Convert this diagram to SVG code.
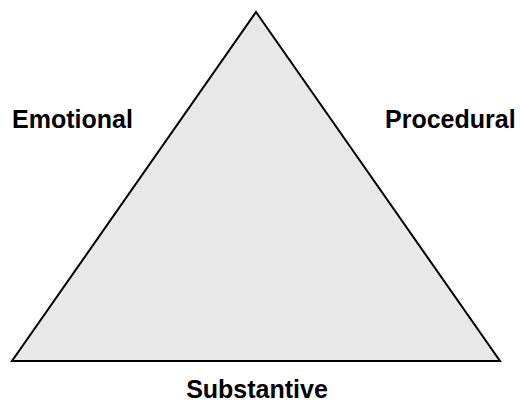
<svg xmlns="http://www.w3.org/2000/svg" width="520" height="407" viewBox="0 0 520 407">
<style>
.lbl{font-family:"Liberation Sans",Arial,sans-serif;font-weight:bold;font-size:25px;fill:#000}
.tri{fill:#e8e8e8;stroke:#000;stroke-width:2;stroke-linejoin:miter}
</style>
<rect width="520" height="407" fill="#fff"/>
<g id="triangle"><polygon class="tri" points="256,12 500,361 12,361"/></g>
<g id="emotional"><text class="lbl" x="12" y="128">Emotional</text></g>
<g id="procedural"><text class="lbl" x="385" y="128">Procedural</text></g>
<g id="substantive"><text class="lbl" x="257" y="398" text-anchor="middle">Substantive</text></g>
</svg>
